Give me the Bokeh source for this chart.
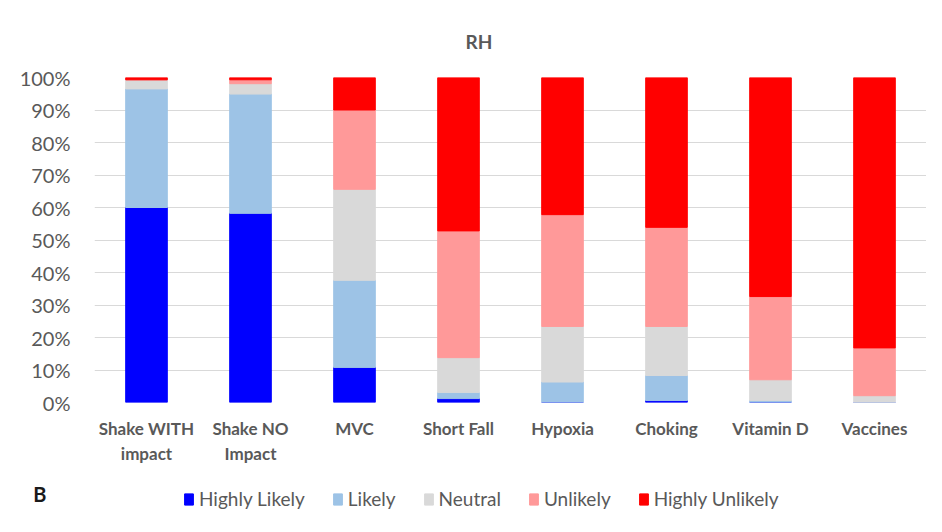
from bokeh.plotting import figure
from bokeh.layouts import column
from bokeh.models import (ColumnDataSource, Legend, NumeralTickFormatter, FixedTicker,
                          Title, Range1d, FactorRange)
from bokeh.embed import file_html
from bokeh.resources import INLINE

categories = ["Shake WITH\nimpact", "Shake NO\nImpact", "MVC", "Short Fall", "Hypoxia", "Choking", "Vitamin D", "Vaccines"]
highly_likely = [0.600, 0.582, 0.108, 0.012, 0.000, 0.006, 0.000, 0.000]
likely = [0.365, 0.367, 0.268, 0.019, 0.063, 0.077, 0.006, 0.000]
neutral = [0.028, 0.032, 0.280, 0.107, 0.171, 0.151, 0.064, 0.021]
unlikely = [0.000, 0.012, 0.244, 0.390, 0.344, 0.305, 0.256, 0.147]
highly_unlikely = [0.007, 0.007, 0.100, 0.472, 0.422, 0.461, 0.674, 0.832]

series = ["Highly Likely", "Likely", "Neutral", "Unlikely", "Highly Unlikely"]
colors = ["#0000FF", "#9DC3E6", "#D9D9D9", "#FF9999", "#FF0000"]

source = ColumnDataSource(data={
    "cat": categories,
    "Highly Likely": highly_likely,
    "Likely": likely,
    "Neutral": neutral,
    "Unlikely": unlikely,
    "Highly Unlikely": highly_unlikely,
})

FONT = "Lato"
GREY = "#595959"

# main chart
p = figure(x_range=categories, y_range=(0, 1), width=926, height=470,
           output_backend="svg", toolbar_location=None,
           min_border_left=94, min_border_right=0, min_border_top=77, min_border_bottom=68)

renderers = p.vbar_stack(series, x="cat", width=0.4, color=colors, source=source)

p.x_range.range_padding = 0

p.yaxis.ticker = FixedTicker(ticks=[i / 10 for i in range(11)])
p.yaxis.formatter = NumeralTickFormatter(format="0%")
for ax in (p.xaxis, p.yaxis):
    ax.axis_line_color = None
    ax.major_tick_line_color = None
    ax.minor_tick_line_color = None
    ax.major_label_text_color = GREY
    ax.major_label_text_font = FONT
p.yaxis.major_label_text_font_size = "20px"
p.yaxis.major_label_standoff = 18
p.xaxis.major_label_text_font_size = "17px"
p.xaxis.major_label_text_font_style = "bold"
p.xaxis.major_label_standoff = 9

p.xgrid.grid_line_color = None
p.ygrid.grid_line_color = "#D9D9D9"
p.ygrid.grid_line_width = 1
p.outline_line_color = None

p.title = Title(text="RH", align="left", offset=371, standoff=50,
                text_font=FONT, text_font_size="19px", text_font_style="bold",
                text_color=GREY)

# legend strip (same data, drawn outside its visible y range so only the legend shows)
q = figure(width=926, height=46, x_range=FactorRange(*categories), y_range=Range1d(2, 3),
           output_backend="svg", toolbar_location=None,
           min_border_left=0, min_border_right=0, min_border_top=0, min_border_bottom=0)
q.xaxis.visible = False
q.grid.grid_line_color = None
q.outline_line_color = None
q.yaxis.ticker = FixedTicker(ticks=[])
q.yaxis.axis_line_color = None
q.yaxis.major_tick_line_color = None
q.yaxis.minor_tick_line_color = None
q.yaxis.axis_label = "B"
q.yaxis.axis_label_orientation = "horizontal"
q.yaxis.axis_label_standoff = 48
q.yaxis.axis_label_text_font = FONT
q.yaxis.axis_label_text_font_size = "20px"
q.yaxis.axis_label_text_font_style = "bold"
q.yaxis.axis_label_text_color = "#1a1a1a"

legend_bars = q.vbar_stack(series, x="cat", width=0.4, color=colors, source=source)
legend = Legend(items=[(s, [r]) for s, r in zip(series, legend_bars)],
                orientation="horizontal", location=(89, 6),
                label_text_font=FONT, label_text_font_size="19px",
                label_text_color=GREY, glyph_width=11, glyph_height=14,
                label_standoff=5, spacing=27, padding=0, margin=0,
                border_line_color=None, background_fill_alpha=0)
q.add_layout(legend, "center")

layout = column(p, q, spacing=0)
open("out.html", "w").write(file_html(layout, INLINE))
